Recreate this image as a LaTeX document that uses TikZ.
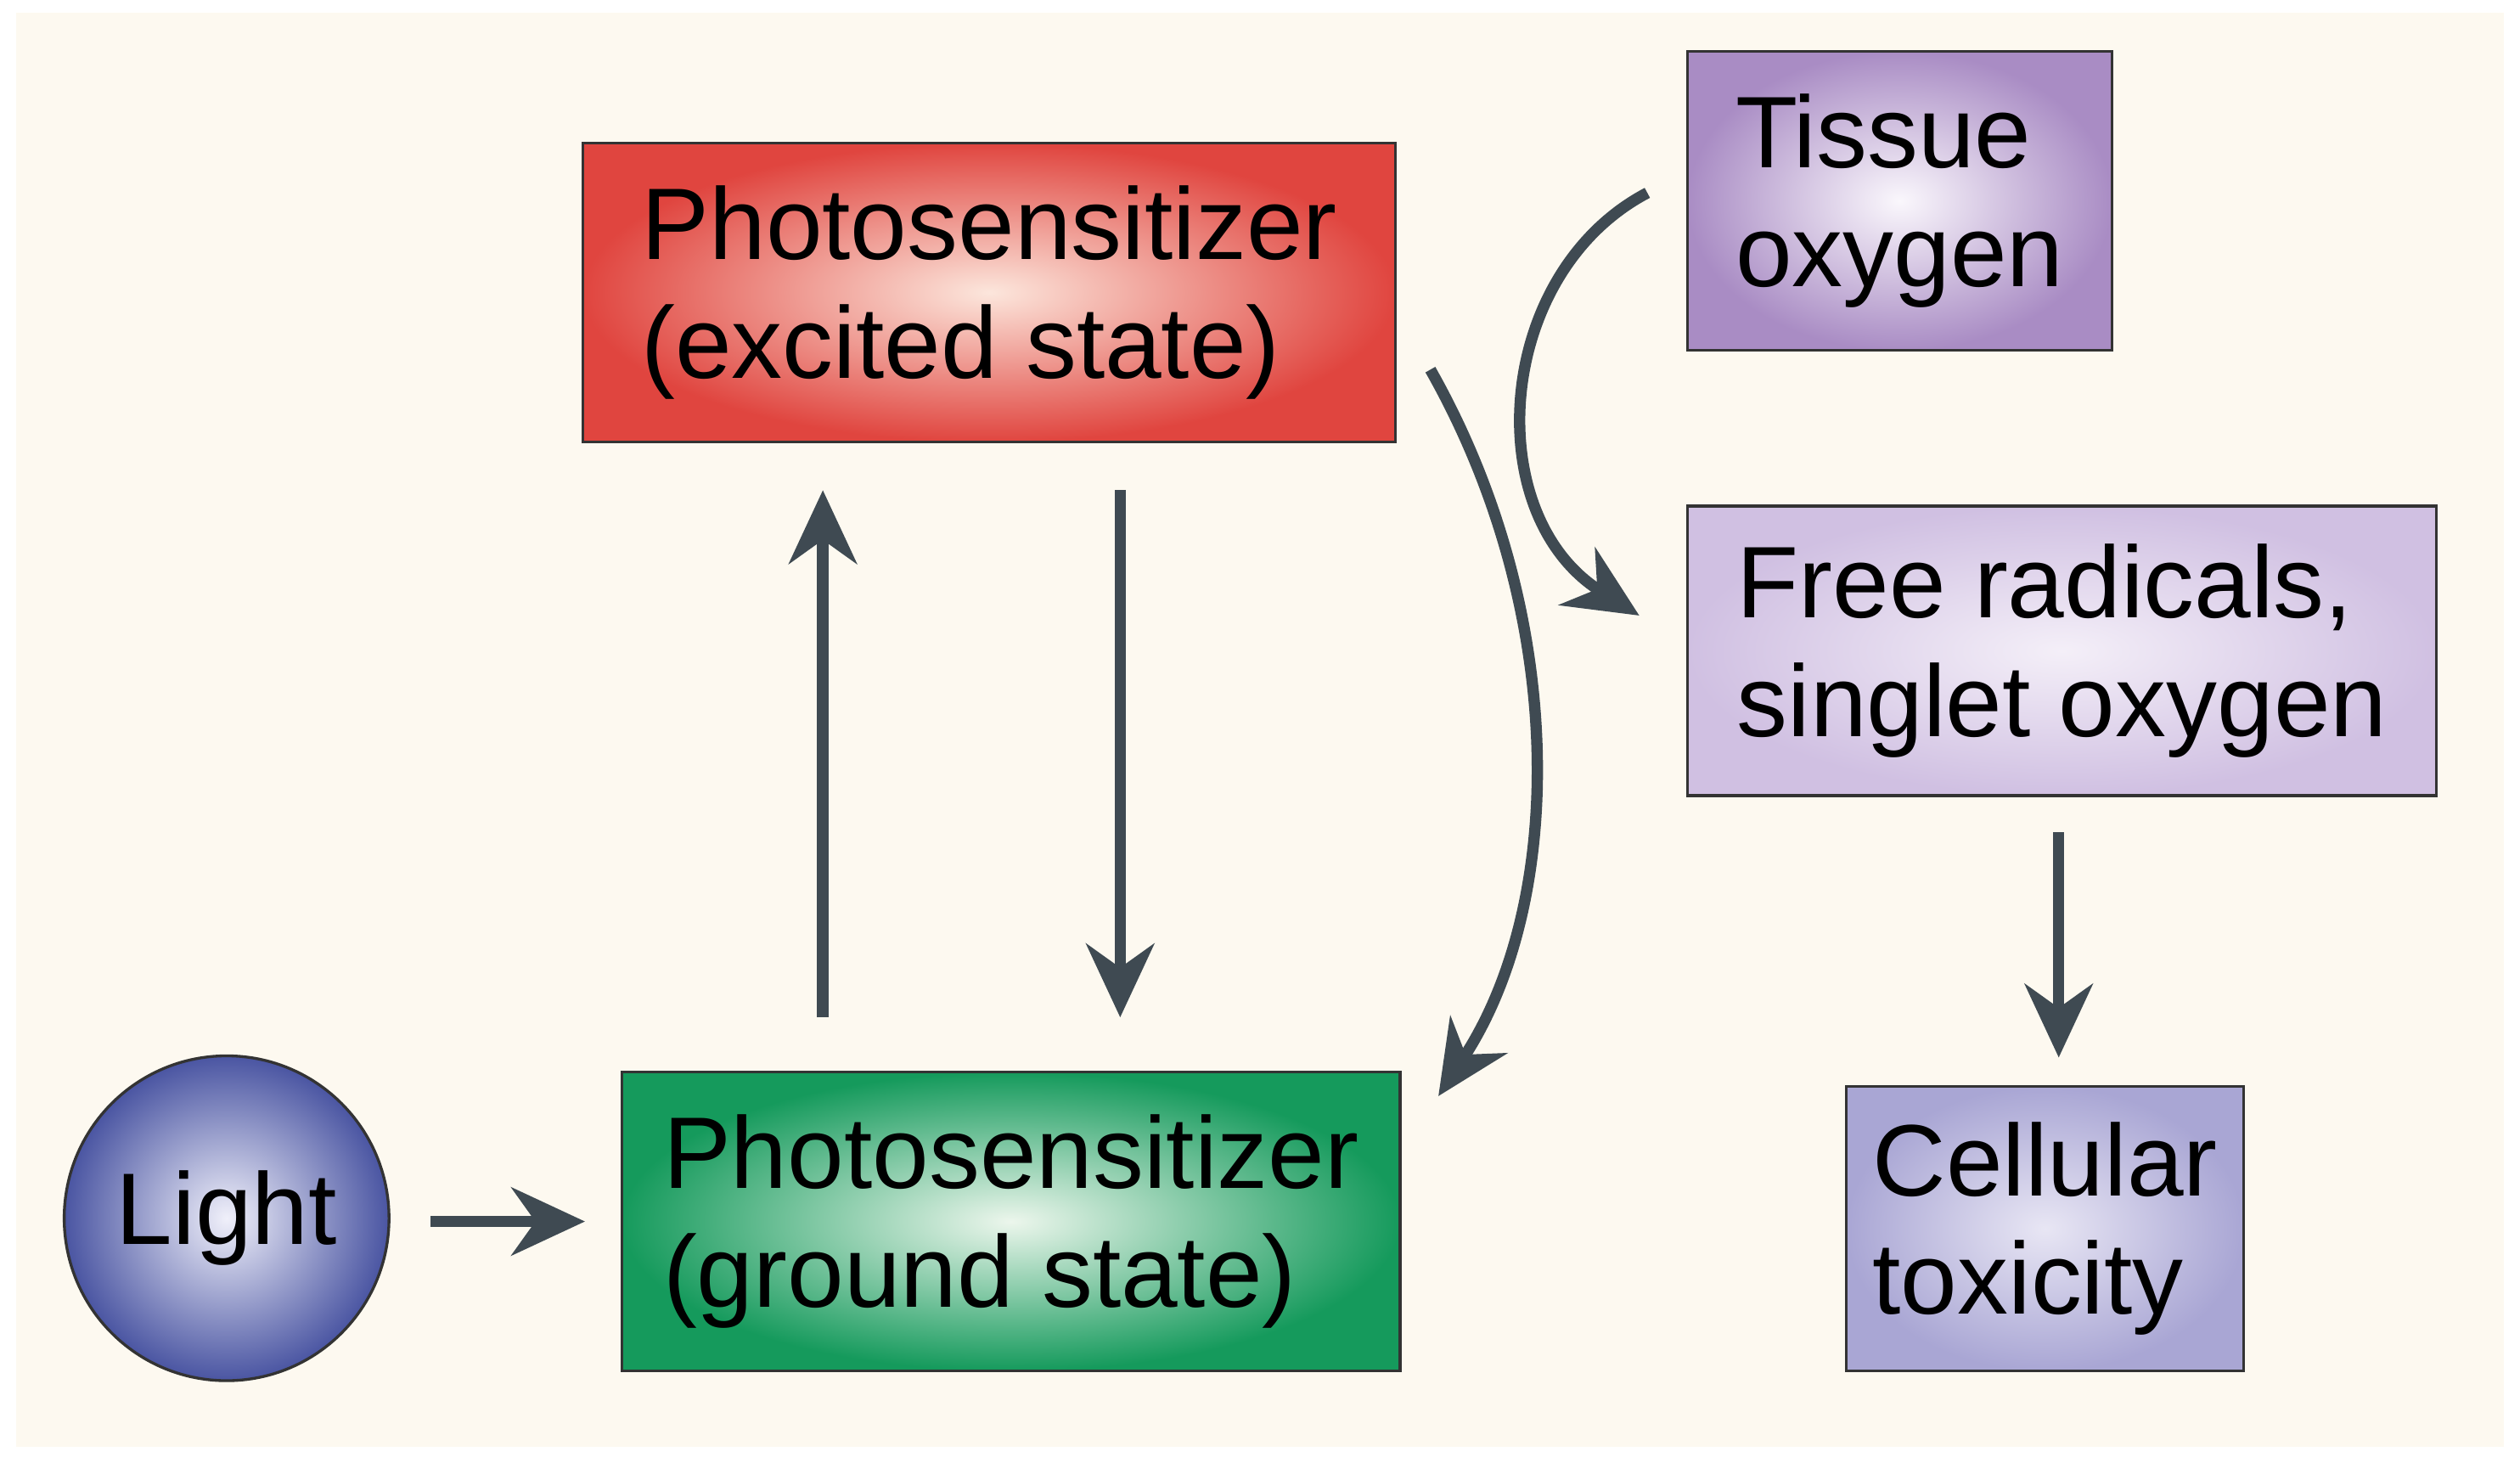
\documentclass[tikz,border=0pt]{standalone}
\usepackage{fontspec}
\setmainfont{Liberation Sans}
\usetikzlibrary{arrows.meta}
\definecolor{bg}{HTML}{FDF9F0}
\definecolor{arr}{HTML}{3F4A52}
\begin{document}
\begin{tikzpicture}[x=0.01cm,y=-0.01cm,
  box/.style={draw=black!80,line width=0.5pt,rectangle,inner sep=0pt,align=left,font=\fontsize{18}{21}\selectfont},
  ar/.style={draw=arr,line width=2pt,-{Stealth[length=13pt,width=12pt]}}]
\useasboundingbox (0,0) rectangle (1568,910);
\fill[white] (0,0) rectangle (1568,910);
\fill[bg] (10,8) rectangle (1558,900);
\node[box,minimum width=5.05cm,minimum height=1.86cm,shading=radial,inner color={rgb,255:red,252;green,230;blue,220},outer color={rgb,255:red,224;green,69;blue,63}] (ex) at (615.5,182) {Photosensitizer\\(excited state)};
\node[box,minimum width=4.84cm,minimum height=1.86cm,shading=radial,inner color={rgb,255:red,236;green,246;blue,236},outer color={rgb,255:red,21;green,154;blue,92}] (gr) at (629,760) {Photosensitizer\\(ground state)};
\node[box,minimum width=2.64cm,minimum height=1.86cm,shading=radial,inner color={rgb,255:red,250;green,247;blue,252},outer color={rgb,255:red,169;green,140;blue,196}] (ti) at (1182,125) {Tissue\\oxygen};
\node[box,minimum width=4.66cm,minimum height=1.80cm,shading=radial,inner color={rgb,255:red,244;green,239;blue,248},outer color={rgb,255:red,208;green,192;blue,226}] (fr) at (1283,405) {Free radicals,\\singlet oxygen};
\node[box,minimum width=2.47cm,minimum height=1.77cm,shading=radial,inner color={rgb,255:red,232;green,230;blue,244},outer color={rgb,255:red,169;green,166;blue,212}] (ce) at (1272.5,764.5) {Cellular\\toxicity};
\node[circle,draw=black!80,line width=0.5pt,minimum size=2.02cm,inner sep=0pt,shading=radial,inner color={rgb,255:red,240;green,240;blue,250},outer color={rgb,255:red,74;green,85;blue,162},font=\fontsize{18}{21}\selectfont] (li) at (141,758) {Light};
\coordinate (a1) at (268,760); \coordinate (a2) at (364,760);
\draw[ar] (a1) -- (a2);
\coordinate (u1) at (512,633); \coordinate (u2) at (512,305);
\draw[ar] (u1) -- (u2);
\coordinate (d1) at (697,305); \coordinate (d2) at (697,633);
\draw[ar] (d1) -- (d2);
\coordinate (c1) at (890,230); \coordinate (c2) at (895,682);
\draw[ar] (c1) .. controls (975,380) and (975,560) .. (c2);
\coordinate (t1) at (1025,120); \coordinate (t2) at (1020,383);
\draw[ar] (t1) .. controls (930,170) and (920,320) .. (t2);
\coordinate (f1) at (1281,518); \coordinate (f2) at (1281,658);
\draw[ar] (f1) -- (f2);
\end{tikzpicture}
\end{document}
